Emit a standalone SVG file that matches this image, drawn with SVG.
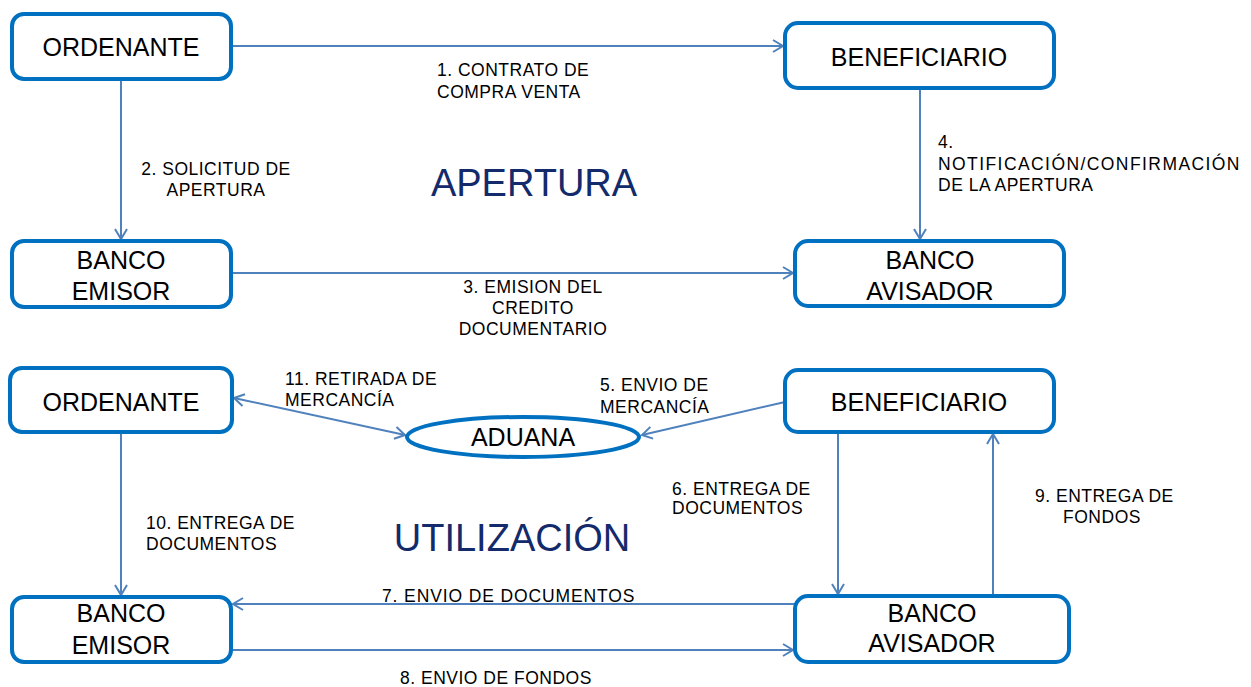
<svg xmlns="http://www.w3.org/2000/svg" width="1251" height="687" viewBox="0 0 1251 687">
<defs>
<style>
.box{fill:#fff;stroke:#0070c0;stroke-width:4}
.bt{font-family:"Liberation Sans",Arial,sans-serif;font-size:25px;fill:#000;text-anchor:middle}
.lb{font-family:"Liberation Sans",Arial,sans-serif;font-size:17.5px;fill:#000;letter-spacing:0.5px}
.ttl{font-family:"Liberation Sans",Arial,sans-serif;font-size:38px;fill:#132a6b;text-anchor:middle}
.cn{fill:none;stroke:#4f81bd;stroke-width:2;marker-end:url(#ah)}
</style>
<marker id="ah" markerUnits="userSpaceOnUse" markerWidth="14" markerHeight="14" viewBox="-12 -7 14 14" refX="0" refY="0" orient="auto-start-reverse">
<path d="M-10,-6 L0,0 L-10,6" fill="none" stroke="#4f81bd" stroke-width="2"/>
</marker>
</defs>
<rect width="1251" height="687" fill="#fff"/>
<g id="connectors">
<path class="cn" d="M231 46 H783"/>
<path class="cn" d="M121 79 V239"/>
<path class="cn" d="M231 273 H793"/>
<path class="cn" d="M920 88 V239"/>
<path class="cn" d="M234 398 L405 435" style="marker-start:url(#ah)"/>
<path class="cn" d="M785 402 L642 435"/>
<path class="cn" d="M121 432 V595"/>
<path class="cn" d="M838 432 V594"/>
<path class="cn" d="M993 596 V434"/>
<path class="cn" d="M795 604 H233"/>
<path class="cn" d="M231 650 H793"/>
</g>
<g id="labels">
<text class="lb" x="437" y="76">1. CONTRATO DE</text>
<text class="lb" x="437" y="98">COMPRA VENTA</text>
<text class="lb" x="216" y="175" text-anchor="middle">2. SOLICITUD DE</text>
<text class="lb" x="216" y="196" text-anchor="middle">APERTURA</text>
<text class="lb" x="533" y="293" text-anchor="middle">3. EMISION DEL</text>
<text class="lb" x="533" y="314" text-anchor="middle">CREDITO</text>
<text class="lb" x="533" y="335" text-anchor="middle">DOCUMENTARIO</text>
<text class="lb" x="938" y="148">4.</text>
<text class="lb" x="938" y="170" textLength="302" lengthAdjust="spacing">NOTIFICACIÓN/CONFIRMACIÓN</text>
<text class="lb" x="938" y="191">DE LA APERTURA</text>
<text class="lb" x="285" y="385">11. RETIRADA DE</text>
<text class="lb" x="285" y="406">MERCANCÍA</text>
<text class="lb" x="600" y="391">5. ENVIO DE</text>
<text class="lb" x="600" y="413">MERCANCÍA</text>
<text class="lb" x="672" y="495">6. ENTREGA DE</text>
<text class="lb" x="672" y="514">DOCUMENTOS</text>
<text class="lb" x="1035" y="502">9. ENTREGA DE</text>
<text class="lb" x="1102" y="523" text-anchor="middle">FONDOS</text>
<text class="lb" x="146" y="529">10. ENTREGA DE</text>
<text class="lb" x="146" y="550">DOCUMENTOS</text>
<text class="lb" x="382" y="602" textLength="253" lengthAdjust="spacing">7. ENVIO DE DOCUMENTOS</text>
<text class="lb" x="400" y="684">8. ENVIO DE FONDOS</text>
<text class="ttl" x="534" y="196">APERTURA</text>
<text class="ttl" x="512" y="551">UTILIZACIÓN</text>
</g>
<g id="ordenante1"><rect class="box" x="12" y="14" width="219" height="65" rx="12"/><text class="bt" x="121" y="56">ORDENANTE</text></g>
<g id="beneficiario1"><rect class="box" x="785" y="23" width="269" height="65" rx="13"/><text class="bt" x="919" y="66">BENEFICIARIO</text></g>
<g id="bancoemisor1"><rect class="box" x="12" y="241" width="219" height="66" rx="12"/><text class="bt" x="121" y="269">BANCO</text><text class="bt" x="121" y="300">EMISOR</text></g>
<g id="bancoavisador1"><rect class="box" x="795" y="241" width="269" height="65" rx="13"/><text class="bt" x="930" y="269">BANCO</text><text class="bt" x="930" y="300">AVISADOR</text></g>
<g id="ordenante2"><rect class="box" x="10" y="368" width="222" height="64" rx="12"/><text class="bt" x="121" y="411">ORDENANTE</text></g>
<g id="aduana"><ellipse cx="523" cy="437" rx="116" ry="20" fill="#fff" stroke="#0070c0" stroke-width="4"/><text class="bt" x="523" y="446">ADUANA</text></g>
<g id="beneficiario2"><rect class="box" x="785" y="370" width="269" height="62" rx="13"/><text class="bt" x="919" y="411">BENEFICIARIO</text></g>
<g id="bancoemisor2"><rect class="box" x="12" y="597" width="219" height="65" rx="12"/><text class="bt" x="121" y="622">BANCO</text><text class="bt" x="121" y="654">EMISOR</text></g>
<g id="bancoavisador2"><rect class="box" x="795" y="596" width="274" height="66" rx="13"/><text class="bt" x="932" y="622">BANCO</text><text class="bt" x="932" y="652">AVISADOR</text></g>
</svg>
